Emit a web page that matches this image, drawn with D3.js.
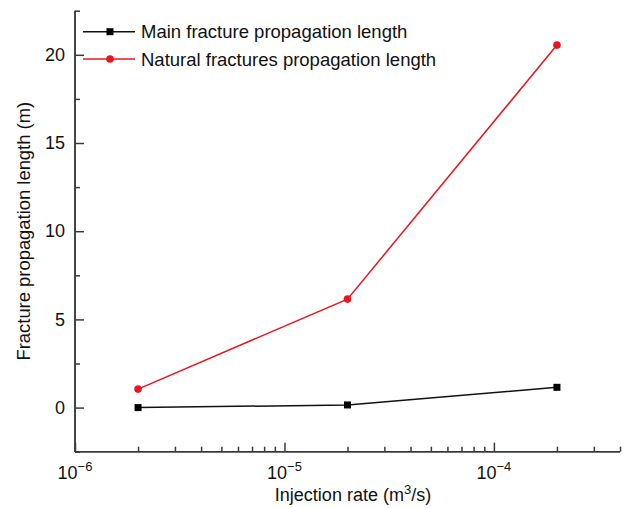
<!DOCTYPE html>
<html><head><meta charset="utf-8">
<script src="https://cdn.jsdelivr.net/npm/d3@7"></script>
<style>body{margin:0;background:#fff;} text{font-family:Arial,"Liberation Sans",sans-serif;}</style>
</head><body>
<svg id="c" width="629" height="508"></svg>
<script>
const injectionRates = [2e-6, 2e-5, 2e-4];
const mainFracture = [0.0, 0.15, 1.15];
const naturalFractures = [1.05, 6.15, 20.55];
const seriesNames = ["Main fracture propagation length", "Natural fractures propagation length"];
const yTicks = [0, 5, 10, 15, 20];
const xMajorTicks = [1e-6, 1e-5, 1e-4];
const xExponents = ["−6", "−5", "−4"];

const svg = d3.select("#c");
const L = 75, R = 620, T = 10.7, B = 451.7;
const x = d3.scaleLog().domain([1e-6, 4e-4]).range([L, R]);
const y = d3.scaleLinear().domain([-2.5, 22.5]).range([B, T]);
const axisColor = "#3a3a3a";
const FS = 18;

const xMinor = [];
for (let d = 1e-6; d < 4e-4; d *= 10) for (let k = 2; k <= 9; k++) { const v = k * d; if (v <= 4e-4 * 1.0001) xMinor.push(v); }
const yMinor = d3.range(-2.5, 22.6, 5);

const g = svg.append("g");
// x axis
const xa = g.append("g").attr("transform", `translate(0,${B})`)
  .call(d3.axisBottom(x).tickValues(xMajorTicks).tickSize(-9).tickSizeOuter(0).tickFormat(""));
xa.append("g").call(d3.axisBottom(x).tickValues(xMinor).tickSize(-5).tickSizeOuter(0).tickFormat(""));
xa.selectAll("path,line").attr("stroke", axisColor).attr("stroke-width", 1.5);
xa.selectAll(".domain").attr("d", `M${L},0H${R}`);

xMajorTicks.forEach((v, i) => {
  const t = g.append("text").attr("x", x(v)).attr("y", B + 27).attr("text-anchor", "middle")
    .attr("font-size", FS).attr("fill", "#111");
  t.append("tspan").text("10");
  t.append("tspan").attr("dy", -8).attr("font-size", 13).text(xExponents[i]);
});

// y axis
const ya = g.append("g").attr("transform", `translate(${L},0)`)
  .call(d3.axisLeft(y).tickValues(yTicks).tickSize(-9).tickSizeOuter(0).tickPadding(10).tickFormat(d3.format("d")));
ya.append("g").call(d3.axisLeft(y).tickValues(yMinor).tickSize(-5).tickSizeOuter(0).tickFormat(""));
ya.selectAll("path,line").attr("stroke", axisColor).attr("stroke-width", 1.5);
ya.selectAll(".domain").attr("d", `M0,${T}V${B}`);
ya.selectAll("text").attr("font-size", FS).attr("fill", "#111").attr("font-family", "Arial, 'Liberation Sans', sans-serif");

// axis titles
g.append("text").attr("x", 353).attr("y", 501).attr("text-anchor", "middle").attr("font-size", FS).attr("fill", "#111")
  .call(t => { t.append("tspan").text("Injection rate (m"); t.append("tspan").attr("dy", -7).attr("font-size", 13).text("3");
               t.append("tspan").attr("dy", 7).text("/s)"); });
g.append("text").attr("transform", `translate(30,${(T + B) / 2}) rotate(-90)`).attr("text-anchor", "middle")
  .attr("font-size", 18.4).attr("fill", "#111").text("Fracture propagation length (m)");

// series
const line = d3.line().x(d => x(d[0])).y(d => y(d[1]));
const mainData = injectionRates.map((v, i) => [v, mainFracture[i]]);
const natData = injectionRates.map((v, i) => [v, naturalFractures[i]]);
const red = "#e8161e";
g.append("path").datum(mainData).attr("d", line).attr("fill", "none").attr("stroke", "#111").attr("stroke-width", 1.5);
g.append("path").datum(natData).attr("d", line).attr("fill", "none").attr("stroke", red).attr("stroke-width", 1.5);
g.selectAll(".sq").data(mainData).enter().append("rect")
  .attr("x", d => x(d[0]) - 3.5).attr("y", d => y(d[1]) - 3.5).attr("width", 7).attr("height", 7).attr("fill", "#000");
g.selectAll(".ci").data(natData).enter().append("circle")
  .attr("cx", d => x(d[0])).attr("cy", d => y(d[1])).attr("r", 3.8).attr("fill", red);

// legend
const leg = g.append("g");
[[31.7, "#111", "sq"], [59, red, "ci"]].forEach((r, i) => {
  leg.append("line").attr("x1", 83).attr("x2", 135).attr("y1", r[0]).attr("y2", r[0]).attr("stroke", r[1]).attr("stroke-width", 1.5);
  if (r[2] === "sq") leg.append("rect").attr("x", 106.5).attr("y", r[0] - 3.5).attr("width", 7).attr("height", 7).attr("fill", "#000");
  else leg.append("circle").attr("cx", 110).attr("cy", r[0]).attr("r", 3.8).attr("fill", red);
  leg.append("text").attr("x", 141).attr("y", r[0] + 6.5).attr("font-size", 18.5).attr("fill", "#111").text(seriesNames[i]);
});
</script>
</body></html>
